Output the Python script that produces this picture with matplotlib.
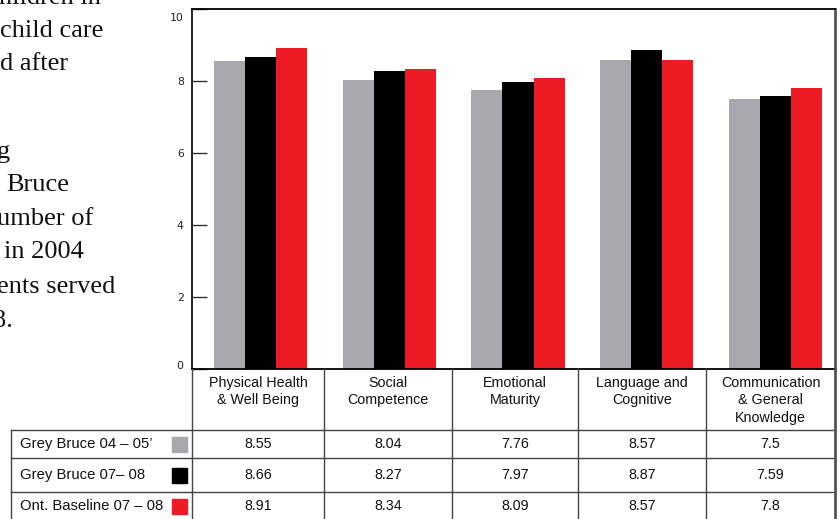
import matplotlib.pyplot as plt
from matplotlib.lines import Line2D
from matplotlib.patches import Rectangle
from matplotlib.transforms import ScaledTranslation
import numpy as np

categories = ["Physical Health\n& Well Being", "Social\nCompetence", "Emotional\nMaturity",
              "Language and\nCognitive", "Communication\n& General\nKnowledge"]
series_names = ["Grey Bruce 04 \u2013 05\u2019", "Grey Bruce 07\u2013 08", "Ont. Baseline 07 \u2013 08"]
gb_0405 = [8.55, 8.04, 7.76, 8.57, 7.5]
gb_0708 = [8.66, 8.27, 7.97, 8.87, 7.59]
ont_0708 = [8.91, 8.34, 8.09, 8.57, 7.8]
colors = ["#A7A8AC", "#000000", "#ED1C24"]

# body text running alongside the chart (clipped at the page edge)
side_text = [("hildren in", 101, 4), ("child care", 103, 37), ("d after", 68, 70.5),
             ("g", 10, 158), ("Bruce", 69, 191), ("umber of", 93, 225),
             ("in 2004", 84, 258), ("ents served", 115, 293), ("8.", 13, 327)]

W, H = 840, 519
fig = plt.figure(figsize=(W / 100, H / 100), dpi=100)


def fx(x):
    return x / W


def fy(y):
    return 1 - y / H


ax_l, ax_r, ax_t, ax_b = 192, 835, 9, 369
ax = fig.add_axes([fx(ax_l), fy(ax_b), (ax_r - ax_l) / W, (ax_b - ax_t) / H])

x = np.arange(len(categories))
bw = 0.241
for i, vals in enumerate([gb_0405, gb_0708, ont_0708]):
    ax.bar(x + (i - 1) * bw, vals, width=bw, color=colors[i], linewidth=0)

ax.set_xlim(-0.532, 4.462)
ax.set_ylim(0, 10)
ax.set_yticks(range(0, 11, 2))
ax.set_xticks([])
ax.tick_params(axis="y", direction="in", length=11, width=1, color="#333333",
               labelsize=7.8, pad=6, labelcolor="#222222")
for lab in ax.get_yticklabels():
    lab.set_fontfamily("DejaVu Sans")

# nudge the end labels inward, away from the frame corners
fig.canvas.draw()
ylabels = ax.get_yticklabels()
ylabels[-1].set_transform(ylabels[-1].get_transform()
                          + ScaledTranslation(0, -8 / 100, fig.dpi_scale_trans))
ylabels[0].set_transform(ylabels[0].get_transform()
                         + ScaledTranslation(0, 4 / 100, fig.dpi_scale_trans))

ax.spines["top"].set_linewidth(1.3)
ax.spines["left"].set_linewidth(1.2)
ax.spines["right"].set_color("#555555")
ax.spines["right"].set_linewidth(2)
ax.spines["bottom"].set_visible(False)

# data table under the bars
line_c = "#444444"
col_x = [192, 324, 452, 578, 706, 835]
row_y = [369, 430, 458, 492, 530]


def hline(y, x0, x1, lw=1.0, c=line_c):
    fig.add_artist(Line2D([fx(x0), fx(x1)], [fy(y), fy(y)], color=c, lw=lw))


def vline(x, y0, y1, lw=1.0, c=line_c):
    fig.add_artist(Line2D([fx(x), fx(x)], [fy(y0), fy(y1)], color=c, lw=lw))


hline(369, 192, 835, lw=1.3, c="#000000")
for y in row_y[1:4]:
    hline(y, 11, 835)
vline(11, 430, 530)
for cx in col_x[:-1]:
    vline(cx, 369, 530)
vline(835, 369, 530, lw=2, c="#555555")

tfont = dict(family="Liberation Sans", fontsize=10.3, color="#111111")
for j, cat in enumerate(categories):
    cx = (col_x[j] + col_x[j + 1]) / 2
    fig.text(fx(cx), fy(376), cat, ha="center", va="top", linespacing=1.3, **tfont)

for i, (name, vals) in enumerate(zip(series_names, [gb_0405, gb_0708, ont_0708])):
    cy = [444, 475, 506][i]
    fig.text(fx(20), fy(cy), name, ha="left", va="center",
             **{**tfont, "fontsize": 10.7})
    fig.add_artist(Rectangle((fx(172), fy(cy + 7.5)), 15 / W, 15 / H, color=colors[i],
                             transform=fig.transFigure))
    for j, v in enumerate(vals):
        cx = (col_x[j] + col_x[j + 1]) / 2
        fig.text(fx(cx), fy(cy), f"{v:g}", ha="center", va="center", **tfont)

for s, xr, yb in side_text:
    fig.text(fx(xr), fy(yb), s, ha="right", va="baseline", family="Liberation Serif",
             fontsize=19, color="#111111")

fig.savefig("out.png", dpi=100)
